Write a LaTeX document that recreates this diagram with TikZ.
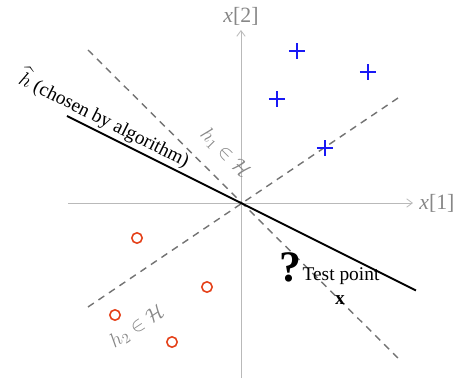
\documentclass[tikz,border=0pt]{standalone}
\usepackage{fontspec}
\setmainfont{Liberation Serif}
\usepackage{amsmath,amssymb}
\usetikzlibrary{arrows.meta,positioning,calc}
\definecolor{axisgray}{RGB}{185,185,185}
\definecolor{dashgray}{RGB}{115,115,115}
\definecolor{labgray}{RGB}{135,135,135}
\definecolor{plusblue}{RGB}{25,25,245}
\definecolor{circred}{RGB}{228,62,22}
\tikzset{
  axis/.style={->,>={Straight Barb[length=4pt,width=6pt]},axisgray,line width=0.6pt},
  hyp/.style={dashed,dashgray,line width=1pt,dash pattern=on 5pt off 4pt},
  chosen/.style={black,line width=1.3pt},
  pluspt/.style={plusblue,line width=1.4pt},
  circpt/.style={circred,line width=1.1pt},
  axlab/.style={labgray,font=\fontsize{15.5}{17}\selectfont},
  hlab/.style={labgray,font=\fontsize{14.5}{16}\selectfont},
  txt/.style={font=\fontsize{13.8}{16}\selectfont},
}

\begin{document}
\begin{tikzpicture}
  \useasboundingbox (-6.025,-4.475) rectangle (5.4,5.075);
  % axes
  \coordinate (xl) at (-4.325,0);
  \coordinate (xr) at (4.3,0);
  \coordinate (yb) at (0,-4.375);
  \coordinate (yt) at (0,4.325);
  \draw[axis] (xl) -- (xr);
  \draw[axis] (yb) -- (yt);
  \node[axlab,right=1pt of xr] (lx1) {\textit{x}[1]};
  \node[axlab,above=0pt of yt] (lx2) {\textit{x}[2]};

  % candidate hypotheses
  \coordinate (h1a) at (-3.825,3.825);
  \coordinate (h1b) at (3.925,-3.875);
  \coordinate (h2a) at (-3.825,-2.6);
  \coordinate (h2b) at (3.925,2.625);
  \draw[hyp] (h1a) -- (h1b);
  \draw[hyp] (h2a) -- (h2b);
  \node[hlab,rotate=-45] (lh1) at (-0.4,1.25) {$h_1 \in \mathcal{H}$};
  \node[hlab,rotate=33.7] (lh2) at (-2.6,-3.1) {$h_2 \in \mathcal{H}$};

  % chosen hypothesis
  \coordinate (hha) at (-4.35,2.175);
  \coordinate (hhb) at (4.375,-2.1875);
  \draw[chosen] (hha) -- (hhb);
  \node[txt,rotate=-26.57] (lhh) at (-3.4,2.12) {$\widehat{h}$ (chosen by algorithm)};

  % data
  \foreach \x/\y in {1.4/3.8,3.175/3.275,0.9/2.6,2.1/1.375}
    \draw[pluspt] (\x-0.2,\y) -- (\x+0.2,\y) (\x,\y-0.2) -- (\x,\y+0.2);
  \foreach \x/\y in {-2.6/-0.875,-0.85/-2.1,-3.15/-2.8,-1.725/-3.475}
    \draw[circpt] (\x,\y) circle (0.13);

  % test point
  \node[font=\fontsize{31}{33}\selectfont\bfseries] (qm) at (1.225,-1.6) {?};
  \node[txt] (tp) at (2.5,-1.82) {Test point};
  \node[txt] (tx) at (2.475,-2.42) {$\mathbf{x}$};
\end{tikzpicture}
\end{document}
